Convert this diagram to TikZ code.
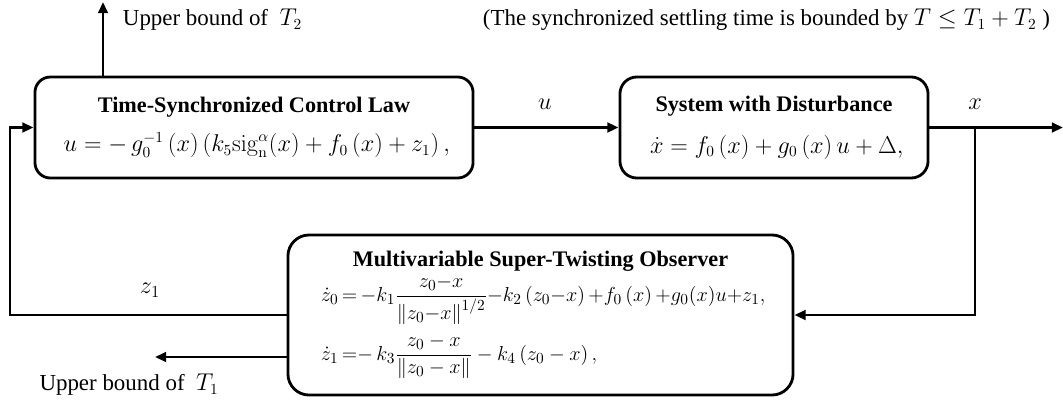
\documentclass[tikz,border=0pt]{standalone}
\usepackage{amsmath}
\usepackage[no-math]{fontspec}
\setmainfont{Liberation Serif}
\usetikzlibrary{arrows.meta, positioning}

\newcommand{\blockhead}{\fontsize{15.8}{19}\selectfont\bfseries}
\newcommand{\blockeq}[1]{\fontsize{#1}{19}\selectfont}

\begin{document}
\begin{tikzpicture}[
    x=0.025cm, y=-0.025cm,
    every node/.style={font=\fontsize{16.3}{19}\selectfont},
    box/.style={rectangle, draw, line width=2pt, align=center, inner sep=0pt},
    arrow/.style={-{Triangle[length=2.8mm, width=2.4mm]}, line width=2pt},
    label/.style={font=\fontsize{18}{21}\selectfont}
]
\useasboundingbox (0,0) rectangle (1063,408);

% ============ BLOCKS ============
\node[box, rounded corners=11pt, minimum width=10.95cm, minimum height=2.525cm] (ctrl) at (254,127.5)
    {{\blockhead Time-Synchronized Control Law}\\[9pt]
     {\blockeq{16} $u = -\, g_0^{-1}\left(x\right)\left(k_5\mathrm{sig}_{\mathrm{n}}^{\alpha}(x) + f_0\left(x\right) + z_1\right),$}};

\node[box, rounded corners=12pt, minimum width=7.7cm, minimum height=2.525cm] (sys) at (774,127.5)
    {{\blockhead System with Disturbance}\\[11pt]
     {\blockeq{15.9} $\dot{x} = f_0\left(x\right) + g_0\left(x\right) u + \Delta,$}};

\node[box, rounded corners=15pt, minimum width=12.625cm, minimum height=4cm] (obs) at (540.5,315)
    {{\blockhead Multivariable Super-Twisting Observer}\\[2pt]
     {\blockeq{15} $\begin{aligned}
     \dot{z}_0 &\,{=}\,{-}k_1\frac{z_0{-}x}{\left\|z_0{-}x\right\|^{1/2}}{-}k_2\left(z_0{-}x\right){+}f_0\left(x\right){+}g_0(x)u{+}z_1,\\[3pt]
     \dot{z}_1 &\,{=}{-}\, k_3\frac{z_0 - x}{\left\|z_0 - x\right\|} - k_4\left(z_0 - x\right),
     \end{aligned}$}};

% ============ ENDPOINTS ============
\coordinate (xout) at (1063,127.5);
\coordinate (xbranch) at (975,127.5);
\coordinate (loopcorner) at (10,315);
\coordinate (t1end) at (155,357);
\coordinate (t2end) at (103,2);

% ============ ARROWS ============
\draw[arrow] (ctrl) -- (sys);
\draw[arrow] (sys) -- (xout);
\draw[arrow] (xbranch) |- (obs.east);
\draw[arrow] (obs.west) -- (loopcorner) |- (ctrl.west);
\draw[arrow] (obs.west |- t1end) -- (t1end);
\draw[arrow] (ctrl.north -| t2end) -- (t2end);

% ============ SIGNAL LABELS ============
\node[label] (ulabel) at (545,104) {$u$};
\node[label] (xlabel) at (975,104) {$x$};
\node[label] (zlabel) at (150,290) {$z_1$};

% ============ NOTES ============
\node[anchor=west] (t2note) at (118,20) {Upper bound of \ $T_2$};
\node[anchor=north] (t1note) at (129,369) {Upper bound of \ $T_1$};
\node[anchor=west] (settle) at (478,20) {(The synchronized settling time is bounded by $T \leq T_1 + T_2$ )};

\end{tikzpicture}
\end{document}
